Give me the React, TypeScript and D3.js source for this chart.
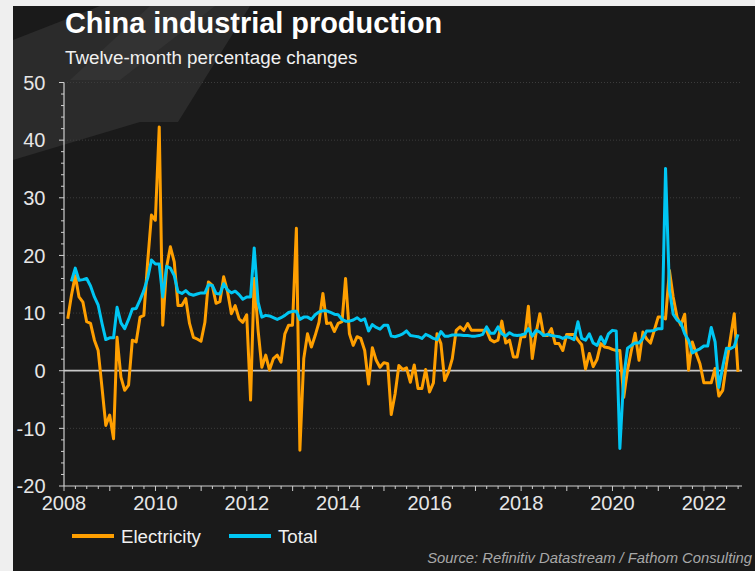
import React, { useEffect, useRef } from 'react';
import * as d3 from 'd3';

// monthly values, Jan 2008 onwards (% y/y)
const electricity: number[] = [
  9.0, 13.0, 16.5, 12.8, 11.9, 8.5, 8.2, 5.3, 3.5, -3.0, -9.5, -7.7,
  -11.8, 5.8, -1.1, -3.4, -2.5, 5.3, 5.0, 9.3, 9.6, 19.0, 27.0, 26.1,
  42.3, 7.9, 18.0, 21.5, 18.9, 11.3, 11.3, 12.5, 8.2, 5.8, 5.5, 5.1,
  8.4, 15.4, 14.8, 11.7, 12.0, 16.3, 13.7, 9.9, 11.3, 9.0, 8.4, 9.7,
  -5.1, 16.0, 7.0, 0.6, 2.7, 0.1, 2.1, 2.7, 1.5, 6.4, 7.9, 7.9,
  24.7, -13.8, 2.1, 6.4, 4.1, 6.1, 8.4, 13.4, 8.2, 8.3, 6.8, 8.2,
  8.5, 16.0, 6.4, 4.4, 5.9, 5.6, 3.5, -2.3, 4.0, 1.8, 0.6, 1.4,
  1.2, -7.6, -4.0, 0.9, 0.2, 0.5, -2.0, 1.0, -3.1, -3.1, 0.2, -3.7,
  -2.1, 6.4, 4.7, -1.7, -0.2, 2.1, 7.0, 7.6, 7.0, 8.2, 7.0, 7.0,
  7.0, 7.0, 7.0, 5.4, 5.0, 5.3, 8.6, 4.8, 5.3, 2.4, 2.4, 5.9,
  5.9, 11.2, 2.1, 6.5, 9.9, 6.1, 6.1, 7.3, 4.7, 4.7, 3.5, 6.3,
  6.3, 6.3, 5.3, 4.5, 0.3, 3.0, 0.7, 2.0, 4.7, 4.1, 4.0, 3.7,
  3.5, 3.5, -4.6, 0.1, 3.5, 6.5, 1.8, 6.7, 5.5, 4.8, 7.0, 9.3,
  9.3, 9.0, 17.4, 12.8, 9.3, 7.9, 9.8, 0.1, 5.0, 3.0, 1.2, -2.1,
  -2.1, -2.1, 0.4, -4.4, -3.4, 1.2, 5.5, 9.9, -0.2,
];

const total: (number | null)[] = [
  null, 15.5, 17.8, 15.7, 15.8, 16.0, 14.7, 12.8, 11.4, 8.2, 5.4, 5.7,
  5.7, 11.0, 8.3, 7.3, 8.9, 10.7, 10.8, 12.3, 13.9, 16.1, 19.2, 18.5,
  18.5, 12.8, 18.1, 17.8, 16.5, 13.7, 13.4, 13.9, 13.3, 13.1, 13.3, 13.5,
  13.5, 14.9, 14.8, 13.4, 13.3, 15.1, 14.0, 13.5, 13.8, 13.2, 12.4, 12.8,
  12.8, 21.3, 11.9, 9.3, 9.6, 9.5, 9.2, 8.9, 9.2, 9.6, 10.1, 10.3,
  10.3, 8.9, 9.3, 9.3, 8.9, 9.7, 10.2, 10.4, 10.4, 10.1, 9.8, 9.7,
  8.9, 8.6, 8.6, 8.8, 9.2, 8.7, 9.0, 6.9, 8.0, 7.5, 7.2, 7.9,
  7.9, 6.0, 5.9, 6.1, 6.4, 6.9, 6.1, 6.0, 5.9, 5.6, 6.3, 6.0,
  5.6, 5.4, 6.8, 6.0, 6.0, 6.2, 6.2, 6.2, 6.1, 6.1, 6.0, 6.0,
  6.1, 6.3, 7.6, 6.5, 6.5, 7.6, 6.4, 6.0, 6.6, 6.2, 6.1, 6.2,
  6.4, 7.3, 6.0, 7.0, 6.7, 6.1, 6.3, 6.1, 6.0, 5.9, 5.6, 5.9,
  5.7, 5.4, 8.5, 5.6, 5.3, 6.4, 4.8, 4.4, 5.9, 4.7, 6.4, 7.0,
  6.9, -13.5, -1.1, 3.9, 4.4, 4.8, 4.8, 5.6, 6.9, 6.9, 7.0, 7.3,
  7.3, 35.1, 14.1, 9.8, 8.8, 8.3, 6.4, 5.3, 3.1, 3.5, 3.8, 4.3,
  4.3, 7.5, 5.0, -2.9, 0.7, 3.9, 3.8, 4.2, 6.3,
];

const yTicks = [-20, -10, 0, 10, 20, 30, 40, 50];
const xTickYears = [2008, 2010, 2012, 2014, 2016, 2018, 2020, 2022];
const seriesNames = ['Electricity', 'Total'];
const seriesColors = ['#ff9f00', '#00c6f3'];

interface Pt { date: Date; value: number | null; }

const toPoints = (vals: (number | null)[]): Pt[] =>
  vals.map((v, i) => ({ date: new Date(2008, i + 1, 0), value: v }));

const W = 755;
const H = 571;

export default function App() {
  const svgRef = useRef<SVGSVGElement>(null);

  useEffect(() => {
    if (!svgRef.current) return;
    const svg = d3.select(svgRef.current);
    svg.selectAll('*').remove();

    const font = 'Liberation Sans, Arial, sans-serif';
    const left = 64, right = 742, top = 82.5, bottom = 486;

    // page + panel
    svg.append('rect').attr('width', W).attr('height', H).attr('fill', '#efefef');
    svg.append('rect').attr('x', 13).attr('y', 6).attr('width', W - 13).attr('height', H - 6).attr('fill', '#1a1a1a');

    // faint watermark shapes (top-left)
    const clip = svg.append('defs').append('clipPath').attr('id', 'panel-clip');
    clip.append('rect').attr('x', 13).attr('y', 6).attr('width', W - 13).attr('height', H - 6);
    const wm = svg.append('g').attr('clip-path', 'url(#panel-clip)');
    const shapes: [number, number][][] = [
      [[13, 40], [100, 6], [250, 6], [178, 122], [140, 122], [13, 160]],
      [[150, 6], [215, 6], [120, 80], [70, 80]],
    ];
    shapes.forEach((s, i) => {
      wm.append('polygon')
        .attr('points', s.map(p => p.join(',')).join(' '))
        .attr('fill', i === 0 ? '#2b2b2b' : '#333333');
    });

    const x = d3.scaleTime()
      .domain([new Date(2008, 0, 1), new Date(2022, 10, 1)])
      .range([left, right]);
    const y = d3.scaleLinear().domain([-20, 50]).range([bottom, top]);

    // gridlines
    svg.append('g')
      .selectAll('line')
      .data(yTicks.filter(t => t !== 0 && t !== -20))
      .join('line')
      .attr('x1', left).attr('x2', right)
      .attr('y1', d => y(d)).attr('y2', d => y(d))
      .attr('stroke', '#3c3c3c').attr('stroke-width', 1).attr('stroke-dasharray', '1,2');

    // y axis
    const yAxis = svg.append('g');
    yAxis.append('line')
      .attr('x1', left).attr('x2', left).attr('y1', y(50)).attr('y2', bottom)
      .attr('stroke', '#cfcfcf').attr('stroke-width', 1.2);
    yAxis.selectAll('.minor')
      .data(d3.range(-20, 51, 2))
      .join('line')
      .attr('x1', d => (d % 10 === 0 ? left - 5 : left - 3)).attr('x2', left)
      .attr('y1', d => y(d)).attr('y2', d => y(d))
      .attr('stroke', '#cfcfcf').attr('stroke-width', 1);
    yAxis.selectAll('text')
      .data(yTicks)
      .join('text')
      .attr('x', 45.5).attr('y', d => y(d))
      .attr('dy', '0.36em')
      .attr('text-anchor', 'end')
      .attr('fill', '#e6e6e6')
      .attr('font-family', font).attr('font-size', 20)
      .text(d => String(d));

    // x axis
    const xAxis = svg.append('g');
    xAxis.append('line')
      .attr('x1', left).attr('x2', right).attr('y1', bottom).attr('y2', bottom)
      .attr('stroke', '#cfcfcf').attr('stroke-width', 1.2);
    const quarters = d3.timeMonth.every(3)!.range(new Date(2008, 0, 1), new Date(2022, 10, 1));
    xAxis.selectAll('.q')
      .data(quarters)
      .join('line')
      .attr('x1', d => x(d)).attr('x2', d => x(d))
      .attr('y1', bottom).attr('y2', d => (d.getMonth() === 0 ? bottom + 5 : bottom + 3))
      .attr('stroke', '#cfcfcf').attr('stroke-width', 1);
    xAxis.selectAll('text')
      .data(xTickYears)
      .join('text')
      .attr('x', d => x(new Date(d, 0, 1)))
      .attr('y', 510)
      .attr('text-anchor', 'middle')
      .attr('fill', '#e6e6e6')
      .attr('font-family', font).attr('font-size', 20)
      .text(d => String(d));

    // zero line
    svg.append('line')
      .attr('x1', left).attr('x2', right).attr('y1', y(0)).attr('y2', y(0))
      .attr('stroke', '#c8c8c8').attr('stroke-width', 1.8);

    // series
    const line = d3.line<Pt>()
      .defined(d => d.value !== null)
      .x(d => x(d.date))
      .y(d => y(d.value as number));

    [electricity, total].forEach((vals, i) => {
      svg.append('path')
        .datum(toPoints(vals))
        .attr('fill', 'none')
        .attr('stroke', seriesColors[i])
        .attr('stroke-width', 3)
        .attr('stroke-linejoin', 'round')
        .attr('d', line);
    });

    // titles
    svg.append('text')
      .attr('x', 65).attr('y', 33)
      .attr('fill', '#ffffff')
      .attr('font-family', font).attr('font-weight', 'bold').attr('font-size', 28.9)
      .text('China industrial production');
    svg.append('text')
      .attr('x', 65).attr('y', 64)
      .attr('fill', '#f0f0f0')
      .attr('font-family', font).attr('font-size', 18.8)
      .text('Twelve-month percentage changes');

    // legend
    const legendX = [72, 229];
    seriesNames.forEach((name, i) => {
      const g = svg.append('g').attr('transform', `translate(${legendX[i]},536)`);
      g.append('line').attr('x1', 0).attr('x2', 42).attr('y1', 0).attr('y2', 0)
        .attr('stroke', seriesColors[i]).attr('stroke-width', 4);
      g.append('text').attr('x', 49).attr('y', 0).attr('dy', '0.36em')
        .attr('fill', '#f0f0f0')
        .attr('font-family', font).attr('font-size', 18.7)
        .text(name);
    });

    // source
    svg.append('text')
      .attr('x', 752).attr('y', 563)
      .attr('text-anchor', 'end')
      .attr('fill', '#a8a8a8')
      .attr('font-family', font).attr('font-style', 'italic').attr('font-size', 14.8)
      .text('Source: Refinitiv Datastream / Fathom Consulting');
  }, []);

  return (
    <svg
      ref={svgRef}
      width={W}
      height={H}
      style={{ position: 'absolute', left: 0, top: 0, display: 'block' }}
    />
  );
}
